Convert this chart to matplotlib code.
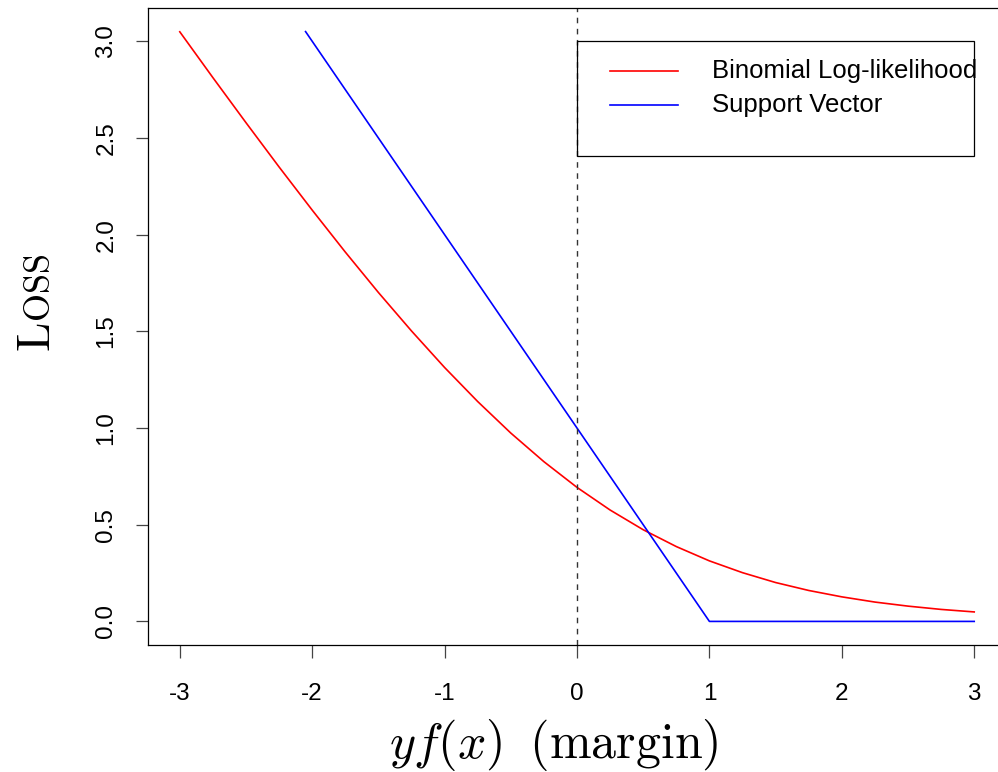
import numpy as np
import matplotlib
matplotlib.use('Agg')
import matplotlib.pyplot as plt
from matplotlib.patches import Rectangle

# binomial deviance loss
margin = [-3.0, -2.75, -2.5, -2.25, -2.0, -1.75, -1.5, -1.25, -1.0, -0.75, -0.5, -0.25,
          0.0, 0.25, 0.5, 0.75, 1.0, 1.25, 1.5, 1.75, 2.0, 2.25, 2.5, 2.75, 3.0]
binomial = [3.049, 2.812, 2.579, 2.350, 2.127, 1.910, 1.701, 1.502, 1.313, 1.137, 0.974, 0.826,
            0.693, 0.576, 0.474, 0.387, 0.313, 0.252, 0.201, 0.160, 0.127, 0.100, 0.079, 0.062, 0.049]
# hinge loss
svm_margin = [-2.05, 1.0, 3.0]
svm_loss = [3.05, 0.0, 0.0]

series = ["Binomial Log-likelihood", "Support Vector"]
colors = ["#ff0000", "#0000ff"]
xticks = [-3, -2, -1, 0, 1, 2, 3]
yticks = [0.0, 0.5, 1.0, 1.5, 2.0, 2.5, 3.0]

W, H = 998, 772
fig = plt.figure(figsize=(W/100, H/100), dpi=100)
# plot box runs past the right edge of the picture
ax = fig.add_axes([148/W, (H-645)/H, (1006-148)/W, (645-8)/H])

ax.plot(margin, binomial, color=colors[0], lw=1.2)
ax.plot(svm_margin, svm_loss, color=colors[1], lw=1.2)
ax.axvline(0, color='#333333', lw=1.0, ls=(0, (4, 4)))

ax.set_xlim(-3.24, 3.24)
ax.set_ylim(-0.122, 3.172)
ax.set_xticks(xticks)
ax.set_xticklabels([str(t) for t in xticks])
ax.set_yticks(yticks)
ax.set_yticklabels(["%.1f" % t for t in yticks])
for s in ax.spines.values():
    s.set_linewidth(0.9)
ax.tick_params(direction='out', length=9, width=0.9, color='#444444')
ax.tick_params(axis='x', pad=18, labelsize=17.5)
ax.tick_params(axis='y', pad=13, labelsize=17.5, labelrotation=90)
for lab in ax.get_xticklabels() + ax.get_yticklabels():
    lab.set_family('Liberation Sans')
for lab in ax.get_yticklabels():
    lab.set_va('center')

# legend box, R style
ax.add_patch(Rectangle((0, 2.406), 3.0, 0.594, fill=False, ec='black', lw=0.9, zorder=5))
for i, (name, c) in enumerate(zip(series, colors)):
    yy = 2.846 - i*0.178
    ax.plot([0.25, 0.763], [yy, yy], color=c, lw=1.2)
    ax.text(1.018, yy, name, family='Liberation Sans', fontsize=18.5, va='center', ha='left')

plt.rcParams['mathtext.fontset'] = 'cm'
fig.text(554/W, (H-758)/H, r'$yf(x)\;\;\mathrm{(margin)}$', fontsize=36,
         ha='center', va='baseline')

# small caps "Loss"
bx = 50/W
t1 = fig.text(bx, (H-352)/H, r'$\mathrm{L}$', fontsize=34, rotation=90,
              rotation_mode='anchor', ha='left', va='baseline')
fig.canvas.draw()
ext = t1.get_window_extent()
fig.text(bx, ext.y1/H + 1/H, r'$\mathrm{OSS}$', fontsize=26, rotation=90,
         rotation_mode='anchor', ha='left', va='baseline')

fig.savefig('out.png', dpi=100)
